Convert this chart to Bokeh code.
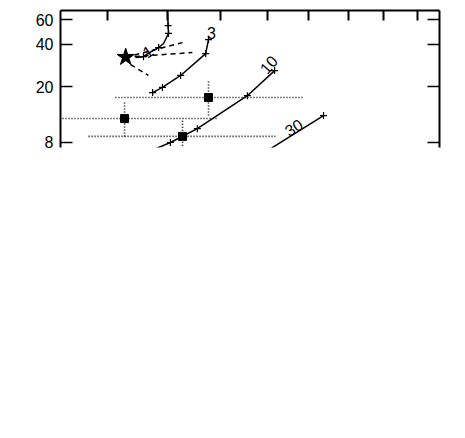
from bokeh.plotting import figure
from bokeh.models import LogAxis, LinearAxis, FixedTicker, Range1d, PrintfTickFormatter, CustomJSTickFormatter
from bokeh.core.properties import value
from bokeh.embed import file_html
from bokeh.resources import INLINE

# ---- data (x in arbitrary units 0..10, y on log scale) ----
star_x = [1.72]
star_y = [32.4]

c1_x = [2.82, 2.84, 2.85, 2.72, 2.59, 2.30, 2.19, 1.98]
c1_y = [72.0, 54.5, 47.9, 40.6, 38.0, 34.4, 32.7, 32.2]
c1_mx = [2.84, 2.85, 2.59, 2.19]
c1_my = [54.5, 47.9, 38.0, 32.7]

c3_x = [3.905, 3.83, 3.17, 2.69, 2.43]
c3_y = [43.3, 34.4, 24.0, 19.7, 18.1]

c10_x = [5.65, 4.93, 3.61, 2.90, 2.30]
c10_y = [26.0, 17.2, 10.0, 7.96, 6.8]
c10_mx = [5.65, 4.93, 3.61, 2.90]
c10_my = [26.0, 17.2, 10.0, 7.96]

c30_x = [6.94, 5.40]
c30_y = [12.4, 6.8]
c30_mx = [6.94]
c30_my = [12.4]

dash_x1 = [1.72, 3.22]
dash_y1 = [32.4, 41.2]
dash_x2 = [1.72, 3.48]
dash_y2 = [32.4, 35.0]
dash_x3 = [1.85, 2.32]
dash_y3 = [28.7, 24.0]

sq_x = [3.905, 1.69, 3.22]
sq_y = [16.7, 11.8, 8.8]
sq_xlo = [1.45, 0.053, 0.74]
sq_xhi = [6.385, 4.14, 5.67]
sq_ylo = [12.4, 8.8, 6.5]
sq_yhi = [22.1, 15.9, 11.8]

lab_text = ["1", "3", "10", "30"]
lab_x = [2.30, 3.98, 5.49, 6.15]
lab_y = [35.6, 48.6, 28.7, 10.2]
lab_angle = [0.6, 0.0, 0.85, 0.55]

y_ticks = [8, 20, 40, 60]
top_ticks = [1.24, 2.82, 4.22, 5.46, 6.54, 7.60, 8.52, 9.42]

FONT = "Liberation Sans"
blank = CustomJSTickFormatter(code="return ''")

p = figure(width=449, height=154,
           x_range=Range1d(0, 10), y_range=Range1d(7.33, 69.9),
           y_axis_type="log", x_axis_location=None,
           output_backend="svg", toolbar_location=None,
           min_border_left=60, min_border_right=10,
           min_border_top=10, min_border_bottom=7)
p.outline_line_color = None
p.grid.visible = False
p.background_fill_color = "white"
p.border_fill_color = "white"

ya = p.yaxis[0]
ya.ticker = FixedTicker(ticks=y_ticks)
ya.formatter = PrintfTickFormatter(format="%d")
ya.major_tick_in = 12
ya.major_tick_out = 0
ya.minor_tick_line_color = None
ya.axis_line_width = 2
ya.major_tick_line_width = 1.5
ya.major_label_standoff = 7
ya.major_label_text_font = FONT
ya.major_label_text_font_size = "16px"
ya.major_label_text_color = "black"

ra = LogAxis(ticker=FixedTicker(ticks=y_ticks), formatter=blank,
             major_tick_in=12, major_tick_out=0,
             minor_tick_line_color=None, axis_line_width=2, major_tick_line_width=1.5,
             major_label_standoff=0)
p.add_layout(ra, "right")

ta = LinearAxis(ticker=FixedTicker(ticks=top_ticks), formatter=blank,
                major_tick_in=10, major_tick_out=0,
                minor_tick_line_color=None, axis_line_width=2, major_tick_line_width=2,
                major_label_standoff=0)
p.add_layout(ta, "above")

# error bars (dotted)
p.segment(x0=sq_xlo, y0=sq_y, x1=sq_xhi, y1=sq_y, line_color="black",
          line_width=1.6, line_dash="1 2")
p.segment(x0=sq_x, y0=sq_ylo, x1=sq_x, y1=sq_yhi, line_color="black",
          line_width=1.6, line_dash="1 2")

# model curves
for xs, ys in [(c1_x, c1_y), (c3_x, c3_y), (c10_x, c10_y), (c30_x, c30_y)]:
    p.line(xs, ys, line_color="black", line_width=1.5)
for xs, ys in [(c1_mx, c1_my), (c3_x, c3_y), (c10_mx, c10_my), (c30_mx, c30_my)]:
    p.scatter(xs, ys, marker="cross", size=7, line_color="black", line_width=1.2)

# dashed lines
for xs, ys in [(dash_x1, dash_y1), (dash_x2, dash_y2), (dash_x3, dash_y3)]:
    p.line(xs, ys, line_color="black", line_width=1.5, line_dash="5 4")

p.scatter(sq_x, sq_y, marker="square", size=8, fill_color="black", line_color="black")
p.scatter(star_x, star_y, marker="star", size=18, fill_color="black", line_color="black")

p.text(x=lab_x, y=lab_y, text=lab_text, angle=lab_angle,
       text_font=value(FONT), text_font_size="16px", text_color="black",
       text_align="center", text_baseline="middle")

open("out.html", "w").write(file_html(p, INLINE))
